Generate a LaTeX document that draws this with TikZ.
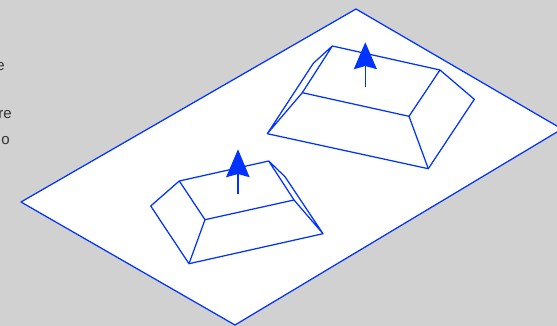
\documentclass[tikz,border=0pt]{standalone}
\usepackage{fontspec}
\setmainfont{Liberation Sans}
\definecolor{bluedraw}{RGB}{0,51,255}
\definecolor{bggray}{RGB}{209,209,209}
\tikzset{
  edge/.style={draw=bluedraw,line width=1.25pt,line join=round},
  stem/.style={draw=bluedraw,line width=1.5pt},
  head/.style={fill=bluedraw,draw=none},
  cut/.style={inner sep=0pt,anchor=base east,font=\fontsize{15}{15}\selectfont,text=black!80}
}
\begin{document}
\begin{tikzpicture}[x=1pt,y=-1pt]
\useasboundingbox (0,0) rectangle (557,326);
\clip (0,0) rectangle (557,326);
\fill[bggray] (0,0) rectangle (557,326);
\node[cut] (t1) at (5,71) {e};
\node[cut] (t2) at (12,119) {re};
\node[cut] (t3) at (10,145) {o};
% base plane
\filldraw[edge,fill=white] (356,9) -- (562,129) -- (235,325) -- (21,202) -- cycle;
% upper frustum
\coordinate (ua) at (332.3,46);
\coordinate (ub) at (440,70);
\coordinate (uc) at (409,116.3);
\coordinate (ud) at (302.3,92.7);
\coordinate (ue) at (313.3,63.3);
\coordinate (uf) at (267.3,133.7);
\coordinate (ug) at (428.3,168.7);
\coordinate (uh) at (474.3,99.3);
\draw[edge] (ua) -- (ub) -- (uh) -- (ug) -- (uf) -- (ue) -- (ua) -- (ud) -- (uf);
\draw[edge] (ud) -- (uc) -- (ub);
\draw[edge] (uc) -- (ug);
% lower frustum
\coordinate (la) at (179.3,181);
\coordinate (lb) at (268.7,161);
\coordinate (lc) at (294,200);
\coordinate (ld) at (205,219.7);
\coordinate (le) at (285,176.7);
\coordinate (lf) at (323,233.7);
\coordinate (lg) at (189,263.7);
\coordinate (lh) at (150.7,206);
\draw[edge] (lb) -- (la) -- (lh) -- (lg) -- (lf) -- (le) -- (lb) -- (lc) -- (lf);
\draw[edge] (la) -- (ld) -- (lc);
\draw[edge] (ld) -- (lg);
% normals
\coordinate (us) at (365.3,87.3);
\coordinate (ut) at (365.3,42.3);
\coordinate (ui) at (365.3,60);
\draw[stem] (us) -- (ui);
\fill[head] (ut) -- (377,69.3) -- (365.3,66) -- (353.7,69.3) -- cycle;
\coordinate (ls) at (238,194.3);
\coordinate (lt) at (238,149.3);
\coordinate (li) at (238,167);
\draw[stem] (ls) -- (li);
\fill[head] (lt) -- (249.7,177.3) -- (238,174) -- (226,177.3) -- cycle;
\end{tikzpicture}
\end{document}
